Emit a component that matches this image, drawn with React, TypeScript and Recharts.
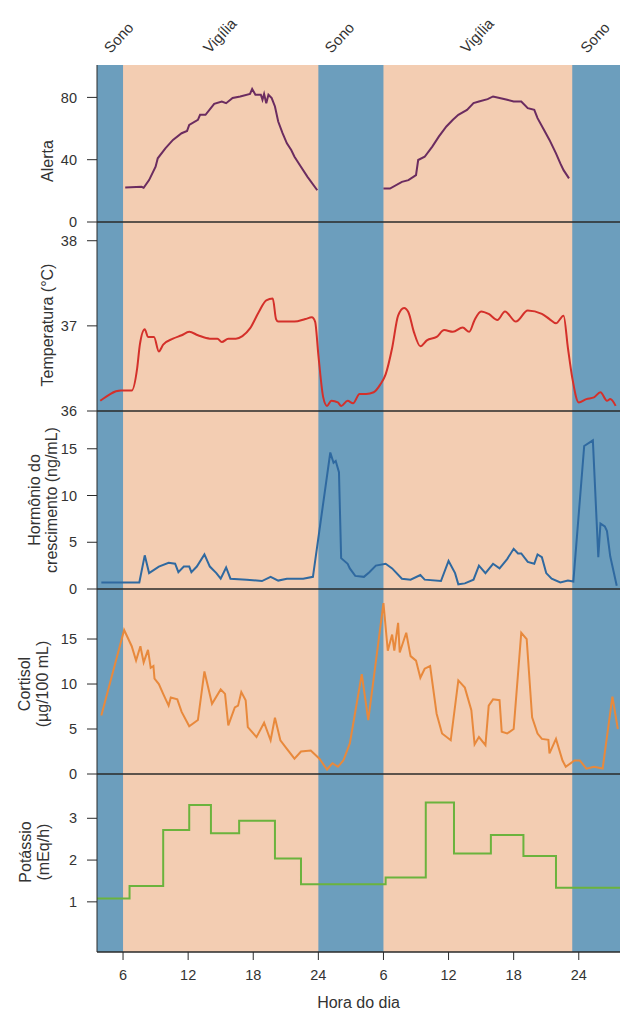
import React from 'react';
import { LineChart, Line, XAxis, YAxis, ReferenceArea } from 'recharts';

const FONT = '"Liberation Sans", Arial, Helvetica, sans-serif';
const PEACH = '#F3CDB2';
const BLUE = '#6C9EBD';
const AXIS = '#2a2a2a';
const TEXT = '#333333';

const X_MIN = 3.6;
const X_MAX = 51.8;

// x axis (hours, two days)
const hourTicks = [6, 12, 18, 24, 30, 36, 42, 48];
const hourTickLabels = ['6', '12', '18', '24', '6', '12', '18', '24'];
const topLabelHours = [4.85, 14.0, 25.2, 37.7, 48.75];
const topLabels = ['Sono', 'Vigília', 'Sono', 'Vigília', 'Sono'];
const sleepStarts = [3.6, 24, 47.4];
const sleepEnds = [6, 30, 51.8];

// Alerta
const alertaHours1 = [6.2, 7.7, 7.9, 8.4, 9.0, 9.2, 9.9, 10.6, 11.4, 11.9, 12.1, 12.9, 13.1, 13.6, 14.4, 15.1, 15.5, 16.1, 16.8, 17.7, 17.9, 18.2, 18.7, 18.85, 19.0, 19.2, 19.4, 19.7, 20.0, 20.3, 20.7, 21.1, 21.5, 21.8, 22.2, 23.0, 23.9];
const alertaValues1 = [22.2, 22.6, 22, 26.9, 35.5, 40.9, 47.3, 52.7, 57, 58.5, 62.4, 65.6, 68.8, 68.8, 75.9, 77.4, 76.3, 79.6, 80.6, 82.2, 85.4, 81.7, 81.7, 78.5, 82.2, 76.3, 81.7, 79.6, 74.2, 64.5, 57, 50.5, 46.2, 41.9, 37.6, 29, 20.4];
const alertaHours2 = [30.0, 30.6, 31.7, 32.3, 33.0, 33.2, 33.8, 34.5, 35.1, 35.8, 36.4, 36.9, 37.7, 38.3, 38.8, 39.6, 40.1, 40.7, 41.4, 42.0, 42.7, 43.3, 43.9, 44.2, 44.8, 45.3, 45.9, 46.3, 46.6, 47.1];
const alertaValues2 = [21.5, 21.5, 25.8, 26.9, 30.1, 39.8, 41.9, 48.4, 54.8, 61.3, 65.6, 68.8, 72, 76.3, 77.4, 78.9, 80.6, 79.6, 78.5, 77.4, 77.4, 73.1, 72, 66.7, 59.1, 52.7, 44.1, 37.6, 33.3, 28];

// Temperatura
const tempHours = [3.9, 5.8, 6.35, 6.8, 7.3, 7.55, 8.0, 8.3, 8.85, 9.3, 9.7, 10.6, 11.4, 12.1, 12.9, 14.0, 14.7, 15.1, 15.7, 16.4, 17.0, 17.7, 18.5, 19.2, 19.8, 20.1, 20.3, 21.8, 22.8, 23.4, 23.7, 24.0, 24.45, 24.8, 25.2, 25.8, 26.1, 26.7, 27.2, 27.8, 28.4, 29.1, 29.7, 30.2, 30.8, 31.35, 31.9, 32.3, 32.8, 33.4, 34.0, 34.9, 35.6, 36.4, 37.3, 37.9, 38.4, 39.0, 39.7, 40.5, 41.2, 42.2, 43.3, 44.6, 45.3, 45.9, 46.6, 47.0, 47.4, 48.0, 48.7, 49.4, 50.0, 50.6, 50.9, 51.4];
const tempValues = [36.12, 36.24, 36.24, 36.24, 36.5, 36.78, 36.96, 36.87, 36.87, 36.7, 36.78, 36.85, 36.89, 36.93, 36.89, 36.85, 36.85, 36.81, 36.85, 36.85, 36.88, 36.97, 37.16, 37.3, 37.32, 37.08, 37.05, 37.05, 37.08, 37.1, 37.05, 36.66, 36.16, 36.06, 36.12, 36.1, 36.06, 36.12, 36.09, 36.2, 36.2, 36.22, 36.31, 36.43, 36.74, 37.12, 37.21, 37.16, 36.93, 36.76, 36.83, 36.87, 36.95, 36.93, 36.98, 36.93, 37.07, 37.17, 37.14, 37.07, 37.17, 37.05, 37.18, 37.14, 37.08, 37.03, 37.12, 36.74, 36.39, 36.1, 36.14, 36.16, 36.22, 36.12, 36.14, 36.06];

// Hormônio do crescimento
const ghHours = [4.0, 7.5, 8.0, 8.4, 9.3, 10.2, 10.8, 11.1, 11.6, 12.1, 12.3, 12.8, 13.5, 14.0, 14.6, 15.0, 15.5, 15.9, 17.4, 18.8, 19.6, 20.3, 21.1, 22.6, 23.5, 25.1, 25.4, 25.6, 25.9, 26.1, 26.7, 26.9, 27.4, 28.2, 28.7, 29.3, 30.2, 30.8, 31.7, 32.5, 33.4, 33.8, 35.3, 36.0, 36.6, 36.9, 37.5, 38.3, 38.8, 39.4, 40.1, 40.7, 41.4, 42.0, 42.4, 42.7, 43.3, 43.9, 44.2, 44.6, 45.0, 45.5, 46.3, 47.0, 47.5, 48.5, 49.3, 49.8, 50.0, 50.4, 50.6, 50.9, 51.5];
const ghValues = [0.7, 0.7, 3.6, 1.7, 2.4, 2.8, 2.7, 1.8, 2.4, 2.4, 1.8, 2.4, 3.7, 2.4, 1.7, 1.1, 2.3, 1.1, 1.0, 0.85, 1.3, 0.9, 1.1, 1.1, 1.3, 14.6, 13.5, 13.7, 12.5, 3.3, 2.7, 2.2, 1.4, 1.3, 1.8, 2.5, 2.7, 2.2, 1.1, 1.0, 1.5, 1.0, 0.85, 3.0, 1.7, 0.5, 0.6, 1.0, 2.5, 1.7, 2.7, 2.2, 3.2, 4.3, 3.8, 3.8, 2.9, 2.7, 3.7, 3.4, 1.7, 1.1, 0.7, 0.9, 0.8, 15.3, 15.9, 3.4, 7.0, 6.7, 6.2, 3.5, 0.35];

// Cortisol
const cortHours = [4.0, 6.1, 6.8, 7.2, 7.6, 7.9, 8.3, 8.55, 8.8, 8.9, 9.3, 9.7, 10.2, 10.4, 11.0, 11.4, 12.1, 12.9, 13.5, 14.2, 15.0, 15.4, 15.7, 16.3, 16.6, 16.9, 17.3, 17.5, 18.3, 19.0, 19.6, 20.0, 20.5, 21.1, 21.8, 22.4, 23.3, 24.1, 24.8, 25.3, 25.8, 26.3, 26.9, 28.0, 28.6, 30.0, 30.4, 30.8, 31.0, 31.35, 31.5, 32.1, 32.5, 33.0, 33.4, 33.8, 34.3, 34.9, 35.4, 36.2, 36.9, 37.5, 38.1, 38.4, 38.8, 39.4, 39.7, 40.1, 40.7, 40.9, 41.4, 42.0, 42.7, 43.2, 43.7, 44.2, 44.6, 45.2, 45.3, 45.9, 46.5, 46.8, 47.6, 48.1, 48.7, 49.4, 50.2, 51.1, 51.6];
const cortValues = [6.5, 16.0, 14.2, 12.6, 14.2, 12.4, 13.8, 11.8, 12.0, 10.6, 10.0, 8.9, 7.6, 8.5, 8.3, 6.9, 5.3, 6.0, 11.4, 7.8, 9.4, 8.9, 5.4, 7.4, 7.6, 9.1, 8.2, 5.2, 4.1, 5.7, 3.75, 6.25, 3.75, 2.8, 1.7, 2.5, 2.6, 1.7, 0.5, 1.2, 0.8, 1.5, 3.4, 11.1, 6.0, 19.0, 13.7, 15.5, 13.7, 16.8, 13.5, 15.7, 13.1, 12.6, 10.7, 11.7, 12.0, 6.7, 4.5, 3.75, 10.4, 9.6, 7.1, 3.3, 4.1, 3.2, 7.6, 8.3, 8.2, 4.7, 4.5, 5.0, 15.7, 15.0, 6.3, 4.5, 3.9, 3.8, 2.3, 3.9, 1.5, 0.8, 1.5, 1.5, 0.6, 0.8, 0.6, 8.6, 5.0];

// Potássio (step values)
const potHours = [3.6, 6.6, 9.7, 12.1, 14.1, 16.7, 20.0, 22.4, 30.2, 33.9, 36.5, 39.9, 42.9, 45.9, 51.8];
const potValues = [1.08, 1.38, 2.72, 3.32, 2.64, 2.94, 2.04, 1.42, 1.58, 3.38, 2.16, 2.6, 2.1, 1.34, 1.34];

const zip = (hs: number[], vs: (number | null)[]) => hs.map((h, i) => ({ h, v: vs[i] }));

const alertaData = [...zip(alertaHours1, alertaValues1), { h: 27, v: null }, ...zip(alertaHours2, alertaValues2)];
const tempData = zip(tempHours, tempValues);
const ghData = zip(ghHours, ghValues);
const cortData = zip(cortHours, cortValues);
const potData = zip(potHours, potValues);

const TopTick = (props: any) => {
  const { x, index } = props;
  const y = 54;
  return (
    <text x={x} y={y} transform={`rotate(-47 ${x} ${y})`} textAnchor="start" fontSize={15} fill={TEXT} fontFamily={FONT}>
      {topLabels[index]}
    </text>
  );
};

const YTitle = (props: any) => {
  const { lines, xs, cy } = props;
  return (
    <g>
      {lines.map((t: string, i: number) => (
        <text key={i} x={xs[i]} y={cy} transform={`rotate(-90 ${xs[i]} ${cy})`} textAnchor="middle" fontSize={16} fill={TEXT} fontFamily={FONT}>
          {t}
        </text>
      ))}
    </g>
  );
};

const XTitle = (props: any) => (
  <text x={358.5} y={props.ty} textAnchor="middle" fontSize={16} fill={TEXT} fontFamily={FONT}>
    Hora do dia
  </text>
);

type PanelProps = {
  top: number;
  plotHeight: number;
  topAxis?: number;
  bottomAxis: number;
  data: any[];
  color: string;
  domain: [number, number];
  ticks: number[];
  titleLines: string[];
  titleXs: number[];
  titleCy: number;
  lineType: any;
  z: number;
  last?: boolean;
};

function Panel(p: PanelProps) {
  const topH = p.topAxis || 0;
  const height = topH + p.plotHeight + p.bottomAxis;
  return (
    <div style={{ position: 'absolute', left: 0, top: p.top - topH, zIndex: p.z }}>
      <LineChart width={641} height={height} data={p.data} margin={{ top: 0, right: 21, bottom: 0, left: 0 }}>
        <ReferenceArea x1={X_MIN} x2={X_MAX} fill={PEACH} fillOpacity={1} stroke="none" />
        {sleepStarts.map((s, i) => (
          <ReferenceArea key={i} x1={s} x2={sleepEnds[i]} fill={BLUE} fillOpacity={1} stroke="none" />
        ))}
        {topH > 0 && (
          <XAxis
            xAxisId="top"
            orientation="top"
            type="number"
            dataKey="h"
            domain={[X_MIN, X_MAX]}
            allowDataOverflow
            ticks={topLabelHours}
            interval={0}
            tick={<TopTick />}
            tickLine={false}
            axisLine={false}
            height={topH}
          />
        )}
        {p.last ? (
          <XAxis
            type="number"
            dataKey="h"
            domain={[X_MIN, X_MAX]}
            allowDataOverflow
            ticks={hourTicks}
            interval={0}
            tickFormatter={(v: number) => hourTickLabels[hourTicks.indexOf(v)]}
            tick={{ fontSize: 14.5, fill: TEXT, fontFamily: FONT }}
            tickSize={8}
            tickMargin={10}
            tickLine={{ stroke: AXIS }}
            axisLine={{ stroke: AXIS, strokeWidth: 1.5 }}
            height={p.bottomAxis}
            label={<XTitle ty={p.plotHeight + 56} />}
          />
        ) : (
          <XAxis
            type="number"
            dataKey="h"
            domain={[X_MIN, X_MAX]}
            allowDataOverflow
            tick={false}
            tickLine={false}
            axisLine={{ stroke: AXIS, strokeWidth: 1.5 }}
            height={p.bottomAxis}
          />
        )}
        <YAxis
          type="number"
          domain={p.domain}
          allowDataOverflow
          ticks={p.ticks}
          interval={0}
          width={97}
          tick={{ fontSize: 14.5, fill: TEXT, fontFamily: FONT }}
          tickSize={10}
          tickMargin={10}
          tickLine={{ stroke: AXIS }}
          axisLine={{ stroke: AXIS, strokeWidth: 1 }}
          label={<YTitle lines={p.titleLines} xs={p.titleXs} cy={topH + p.titleCy} />}
        />
        <Line
          type={p.lineType}
          dataKey="v"
          stroke={p.color}
          strokeWidth={2}
          dot={false}
          activeDot={false}
          connectNulls={false}
          isAnimationActive={false}
        />
      </LineChart>
    </div>
  );
}

export default function App() {
  return (
    <div style={{ position: 'absolute', left: 0, top: 0, width: 641, height: 1025, background: '#fff', fontFamily: FONT }}>
      <Panel top={65} topAxis={65} plotHeight={157} bottomAxis={14} data={alertaData} color="#6B2C60"
        domain={[0, 100.8]} ticks={[0, 40, 80]} titleLines={['Alerta']} titleXs={[53]} titleCy={161 - 65} lineType="linear" z={10} />
      <Panel top={222} plotHeight={189} bottomAxis={14} data={tempData} color="#D4302A"
        domain={[36, 38.22]} ticks={[36, 37, 38]} titleLines={['Temperatura (°C)']} titleXs={[53]} titleCy={325 - 222} lineType="monotone" z={9} />
      <Panel top={411} plotHeight={178} bottomAxis={14} data={ghData} color="#2F69A0"
        domain={[0, 19.04]} ticks={[0, 5, 10, 15]} titleLines={['Hormônio do', 'crescimento (ng/mL)']} titleXs={[40, 57]} titleCy={500 - 411} lineType="linear" z={8} />
      <Panel top={589} plotHeight={185} bottomAxis={14} data={cortData} color="#E8893C"
        domain={[0, 20.56]} ticks={[0, 5, 10, 15]} titleLines={['Cortisol', '(µg/100 mL)']} titleXs={[30, 48]} titleCy={684 - 589} lineType="linear" z={7} />
      <Panel top={774} plotHeight={178} bottomAxis={70} data={potData} color="#6BB33D"
        domain={[-0.2, 4.06]} ticks={[1, 2, 3]} titleLines={['Potássio', '(mEq/h)']} titleXs={[31, 49]} titleCy={852 - 774} lineType="stepAfter" z={6} last />
    </div>
  );
}
